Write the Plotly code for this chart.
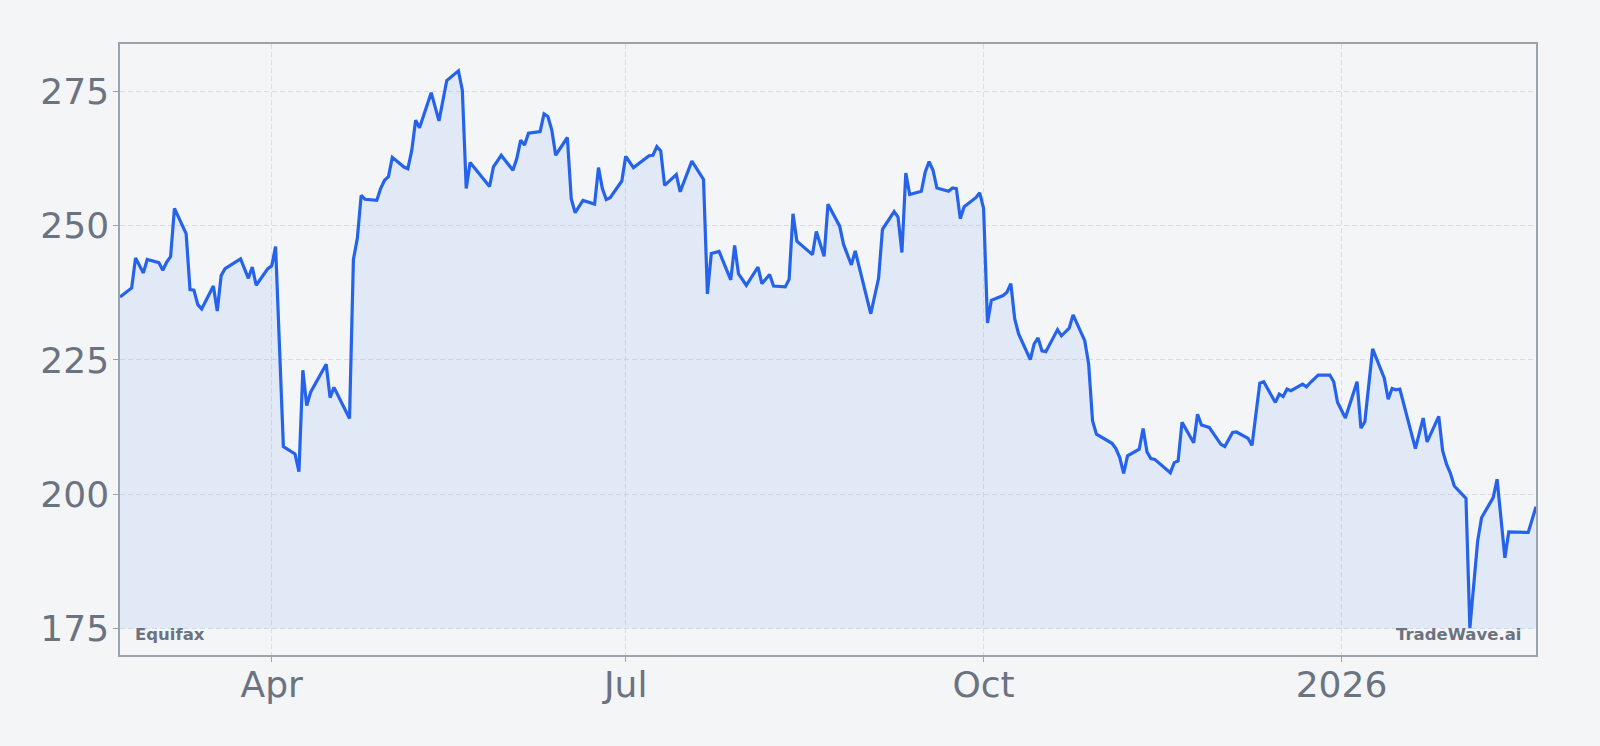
import plotly.graph_objects as go

dates = [
    "2025-02-21", "2025-02-24", "2025-02-25", "2025-02-27", "2025-02-28",
    "2025-03-03", "2025-03-04", "2025-03-05", "2025-03-06", "2025-03-07",
    "2025-03-10", "2025-03-11", "2025-03-12", "2025-03-13", "2025-03-14",
    "2025-03-17", "2025-03-18", "2025-03-19", "2025-03-20", "2025-03-24",
    "2025-03-26", "2025-03-27", "2025-03-28", "2025-03-31", "2025-04-01",
    "2025-04-02", "2025-04-04", "2025-04-07", "2025-04-08", "2025-04-09",
    "2025-04-10", "2025-04-11", "2025-04-15", "2025-04-16", "2025-04-17",
    "2025-04-21", "2025-04-22", "2025-04-23", "2025-04-24", "2025-04-25",
    "2025-04-28", "2025-04-29", "2025-04-30", "2025-05-01", "2025-05-02",
    "2025-05-05", "2025-05-06", "2025-05-07", "2025-05-08", "2025-05-09",
    "2025-05-12", "2025-05-14", "2025-05-16", "2025-05-19", "2025-05-20",
    "2025-05-21", "2025-05-22", "2025-05-27", "2025-05-28", "2025-05-30",
    "2025-06-02", "2025-06-03", "2025-06-04", "2025-06-05", "2025-06-06",
    "2025-06-09", "2025-06-10", "2025-06-11", "2025-06-12", "2025-06-13",
    "2025-06-16", "2025-06-17", "2025-06-18", "2025-06-20", "2025-06-23",
    "2025-06-24", "2025-06-25", "2025-06-26", "2025-06-27", "2025-06-30",
    "2025-07-01", "2025-07-03", "2025-07-07", "2025-07-08", "2025-07-09",
    "2025-07-10", "2025-07-11", "2025-07-14", "2025-07-15", "2025-07-18",
    "2025-07-21", "2025-07-22", "2025-07-23", "2025-07-25", "2025-07-28",
    "2025-07-29", "2025-07-30", "2025-08-01", "2025-08-04", "2025-08-05",
    "2025-08-07", "2025-08-08", "2025-08-11", "2025-08-12", "2025-08-13",
    "2025-08-14", "2025-08-18", "2025-08-19", "2025-08-21", "2025-08-22",
    "2025-08-25", "2025-08-26", "2025-08-28", "2025-08-29", "2025-09-02",
    "2025-09-04", "2025-09-05", "2025-09-08", "2025-09-09", "2025-09-10",
    "2025-09-11", "2025-09-12", "2025-09-15", "2025-09-16", "2025-09-17",
    "2025-09-18", "2025-09-19", "2025-09-22", "2025-09-23", "2025-09-24",
    "2025-09-25", "2025-09-26", "2025-09-29", "2025-09-30", "2025-10-01",
    "2025-10-02", "2025-10-03", "2025-10-06", "2025-10-07", "2025-10-08",
    "2025-10-09", "2025-10-10", "2025-10-13", "2025-10-14", "2025-10-15",
    "2025-10-16", "2025-10-17", "2025-10-20", "2025-10-21", "2025-10-23",
    "2025-10-24", "2025-10-27", "2025-10-28", "2025-10-29", "2025-10-30",
    "2025-11-03", "2025-11-04", "2025-11-05", "2025-11-06", "2025-11-07",
    "2025-11-10", "2025-11-11", "2025-11-12", "2025-11-13", "2025-11-14",
    "2025-11-18", "2025-11-19", "2025-11-20", "2025-11-21", "2025-11-24",
    "2025-11-25", "2025-11-26", "2025-11-28", "2025-12-01", "2025-12-02",
    "2025-12-04", "2025-12-05", "2025-12-08", "2025-12-09", "2025-12-11",
    "2025-12-12", "2025-12-15", "2025-12-16", "2025-12-17", "2025-12-18",
    "2025-12-19", "2025-12-22", "2025-12-23", "2025-12-24", "2025-12-26",
    "2025-12-29", "2025-12-30", "2025-12-31", "2026-01-02", "2026-01-05",
    "2026-01-06", "2026-01-07", "2026-01-09", "2026-01-12", "2026-01-13",
    "2026-01-14", "2026-01-15", "2026-01-16", "2026-01-20", "2026-01-22",
    "2026-01-23", "2026-01-26", "2026-01-27", "2026-01-28", "2026-01-29",
    "2026-01-30", "2026-02-02", "2026-02-03", "2026-02-05", "2026-02-06",
    "2026-02-09", "2026-02-10", "2026-02-12", "2026-02-13", "2026-02-18",
    "2026-02-20",
]

prices = [
    236.7, 238.4, 244.0, 241.2, 243.7,
    243.1, 241.7, 243.2, 244.2, 253.2,
    248.5, 238.1, 238.0, 235.3, 234.5,
    238.75, 234.1, 240.7, 242.0, 243.8,
    240.2, 242.3, 238.9, 242.0, 242.5,
    246.1, 208.9, 207.5, 204.2, 223.1,
    216.5, 219.0, 224.2, 218.0, 219.9,
    214.1, 243.7, 247.6, 255.65, 254.9,
    254.7, 256.9, 258.45, 259.1, 262.7,
    260.9, 260.6, 264.0, 269.6, 268.2,
    274.75, 269.5, 277.0, 278.8, 275.2,
    256.9, 261.75, 257.3, 260.95, 263.1,
    260.3, 262.5, 265.9, 265.0, 267.2,
    267.5, 270.8, 270.3, 267.8, 263.1,
    266.4, 255.0, 252.4, 254.7, 254.0,
    260.8, 256.9, 254.85, 255.2, 258.3,
    262.9, 260.8, 263.0, 263.1, 264.7,
    263.9, 257.5, 259.5, 256.3, 262.0,
    258.6, 237.3, 244.8, 245.2, 239.9,
    246.3, 241.0, 238.9, 242.3, 239.2,
    240.9, 238.75, 238.6, 240.0, 252.2,
    247.1, 244.6, 248.9, 244.3, 254.0,
    249.9, 246.5, 242.7, 245.3, 233.6,
    240.2, 249.3, 252.6, 251.6, 245.0,
    259.8, 255.8, 256.4, 260.0, 261.9,
    260.3, 257.0, 256.4, 257.0, 256.9,
    251.3, 253.5, 255.2, 256.1, 253.2,
    231.9, 236.1, 237.0, 237.6, 239.2,
    232.65, 229.85, 225.05, 228.0, 229.1,
    226.7, 226.55, 230.65, 229.5, 230.9,
    233.4, 228.6, 224.25, 213.7, 211.2,
    209.5, 208.5, 206.85, 203.9, 207.15,
    208.4, 212.25, 207.9, 206.65, 206.5,
    204.0, 205.9, 206.2, 213.4, 209.6,
    214.9, 212.9, 212.45, 209.3, 208.9,
    211.5, 211.6, 210.4, 209.1, 220.7,
    220.95, 217.1, 218.65, 218.2, 219.6,
    219.3, 220.5, 220.0, 220.8, 222.2,
    222.2, 220.95, 217.1, 214.2, 220.95,
    212.3, 213.5, 227.05, 221.6, 217.7,
    219.7, 219.45, 219.6, 208.5, 214.2,
    209.75, 214.5, 208.1, 205.6, 203.9,
    201.55, 199.25, 175.1, 191.3, 195.65,
    199.4, 202.8, 188.2, 193.0, 192.9,
    197.7,
]

tick_dates = ["2025-04-01", "2025-07-01", "2025-10-01", "2026-01-01"]
tick_labels = ["Apr", "Jul", "Oct", "2026"]
y_ticks = [175, 200, 225, 250, 275]

ticker_label = "Equifax"
brand_label = "TradeWave.ai"

LINE = "#2563eb"
GRAY = "#6b7280"
FRAME = "#9ca3af"
GRID = "#d9dde3"
BG = "#f4f5f7"
FONT = "DejaVu Sans"

base = min(prices)

fig = go.Figure()
fig.add_trace(go.Scatter(
    x=dates, y=[base] * len(dates), mode="lines",
    line=dict(width=0, color="rgba(0,0,0,0)"),
    hoverinfo="skip", showlegend=False,
))
fig.add_trace(go.Scatter(
    x=dates, y=prices, mode="lines",
    line=dict(color=LINE, width=3.2),
    fill="tonexty", fillcolor="rgba(59,130,246,0.1)",
    showlegend=False, name=ticker_label,
))

axis_common = dict(
    showline=True, mirror=True, linecolor=FRAME, linewidth=1.5,
    showgrid=True, gridcolor=GRID, griddash="5px,3px", gridwidth=1,
    ticks="outside", ticklen=5, tickcolor=FRAME, tickwidth=1,
    tickfont=dict(family=FONT, size=36, color=GRAY),
    zeroline=False,
)

fig.update_layout(
    width=1600, height=746,
    paper_bgcolor=BG, plot_bgcolor=BG,
    margin=dict(l=120, r=64, t=44, b=91),
    font=dict(family=FONT, color=GRAY),
    showlegend=False,
    xaxis=dict(
        type="date", range=[dates[0], dates[-1]],
        tickmode="array", tickvals=tick_dates, ticktext=tick_labels,
        ticklabelstandoff=-8,
        **axis_common,
    ),
    yaxis=dict(
        range=[min(prices) - 5, max(prices) + 5],
        tickmode="array", tickvals=y_ticks,
        ticklabelstandoff=-3,
        **axis_common,
    ),
    annotations=[
        dict(text=f"<b>{ticker_label}</b>", xref="paper", yref="paper",
             x=0, y=0, xanchor="left", yanchor="bottom", xshift=13, yshift=9,
             showarrow=False, font=dict(family=FONT, size=16.5, color=GRAY)),
        dict(text=f"<b>{brand_label}</b>", xref="paper", yref="paper",
             x=1, y=0, xanchor="right", yanchor="bottom", xshift=-13, yshift=9,
             showarrow=False, font=dict(family=FONT, size=16.5, color=GRAY)),
    ],
)

fig.write_html(
    "out.html",
    config={"displayModeBar": False},
    post_script=(
        "document.body.style.margin='0';"
        "document.body.style.background='" + BG + "';"
    ),
)
